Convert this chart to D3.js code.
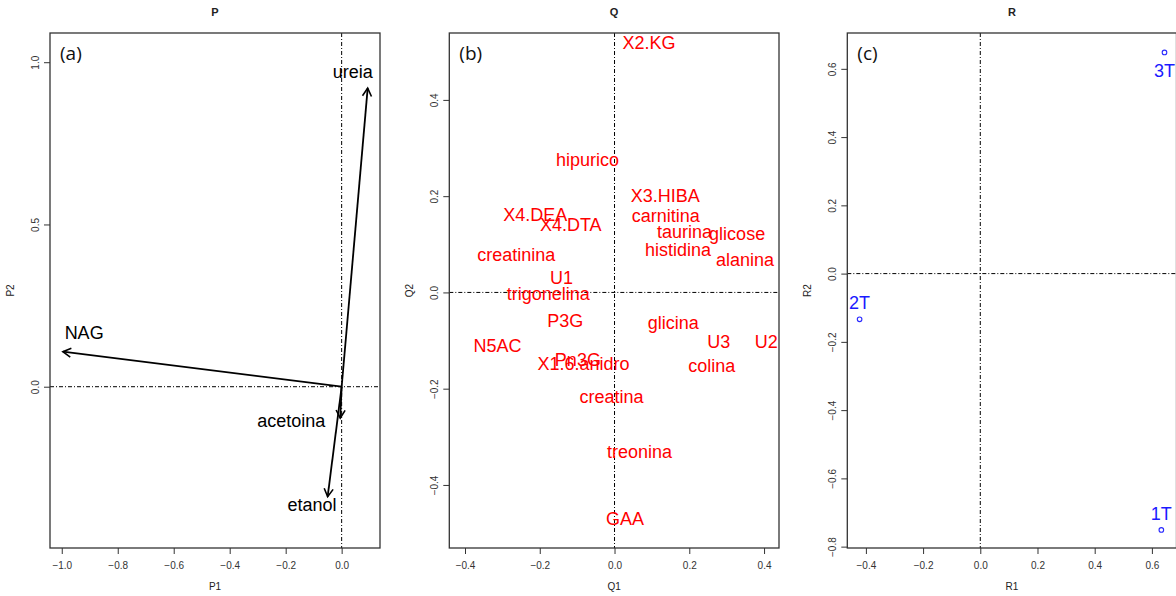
<!DOCTYPE html>
<html><head><meta charset="utf-8">
<script src="https://cdn.jsdelivr.net/npm/d3@7"></script>
<style>
body{margin:0;background:#fff;}
svg{display:block;font-family:"Liberation Sans",Arial,sans-serif;}
</style></head>
<body><svg id="c" width="1176" height="596"></svg>
<script>
// ---- Panel P (variable loadings, arrows) ----
const pVars = ["ureia","NAG","acetoina","etanol"];
const pX = [0.093,-0.996,-0.005,-0.05];
const pY = [0.92,0.108,-0.097,-0.339];
const pLabelX = [0.04,-0.92,-0.18,-0.106];
const pLabelY = [0.97,0.165,-0.106,-0.365];
const pXTicks = [-1.0,-0.8,-0.6,-0.4,-0.2,0.0];
const pYTicks = [0.0,0.5,1.0];

// ---- Panel Q (metabolite labels) ----
const qLabels = ["X2.KG","hipurico","X3.HIBA","carnitina","X4.DEA","X4.DTA","taurina","glicose","histidina","alanina","creatinina","U1","trigonelina","P3G","glicina","N5AC","U3","U2","Pn3G","X1.6.anidro","colina","creatina","treonina","GAA"];
const qX = [0.092,-0.072,0.136,0.137,-0.212,-0.117,0.187,0.328,0.170,0.349,-0.263,-0.142,-0.177,-0.132,0.157,-0.313,0.279,0.406,-0.098,-0.083,0.260,-0.008,0.067,0.028];
const qY = [0.518,0.276,0.200,0.159,0.160,0.140,0.126,0.121,0.088,0.068,0.078,0.030,-0.003,-0.060,-0.064,-0.112,-0.102,-0.102,-0.140,-0.148,-0.152,-0.218,-0.332,-0.470];
const qXTicks = [-0.4,-0.2,0.0,0.2,0.4];
const qYTicks = [-0.4,-0.2,0.0,0.2,0.4];

// ---- Panel R (sample scores) ----
const rLabels = ["3T","2T","1T"];
const rX = [0.644,-0.422,0.633];
const rY = [0.648,-0.134,-0.751];
const rLabelSide = ["below","above","above"];
const rXTicks = [-0.4,-0.2,0.0,0.2,0.4,0.6];
const rYTicks = [-0.8,-0.6,-0.4,-0.2,0.0,0.2,0.4,0.6];

const svg = d3.select("#c");
const fmt = d3.format(".1f");

function panel(o){
  const g = svg.append("g");
  const x = d3.scaleLinear().domain(o.xd).range([o.left,o.right]);
  const y = d3.scaleLinear().domain(o.yd).range([o.bottom,o.top]);
  const clipId = "clip"+o.title;
  g.append("clipPath").attr("id",clipId).append("rect")
    .attr("x",o.left).attr("y",o.top).attr("width",o.right-o.left).attr("height",o.bottom-o.top);
  const inner = g.append("g").attr("clip-path",`url(#${clipId})`);
  // reference lines
  inner.append("line").attr("x1",o.left).attr("x2",o.right).attr("y1",y(0)).attr("y2",y(0))
    .attr("stroke","#000").attr("stroke-width",1).attr("stroke-dasharray","4,2,1,2");
  inner.append("line").attr("x1",x(0)).attr("x2",x(0)).attr("y1",o.top).attr("y2",o.bottom)
    .attr("stroke","#000").attr("stroke-width",1).attr("stroke-dasharray","4,2,1,2");
  // box
  g.append("rect").attr("x",o.left).attr("y",o.top).attr("width",o.right-o.left).attr("height",o.bottom-o.top)
    .attr("fill","none").attr("stroke","#333").attr("stroke-width",1.3);
  // axes
  const ax = g.append("g").attr("transform",`translate(0,${o.bottom})`)
    .call(d3.axisBottom(x).tickValues(o.xt).tickFormat(fmt).tickSize(6).tickPadding(8));
  const ay = g.append("g").attr("transform",`translate(${o.left},0)`)
    .call(d3.axisLeft(y).tickValues(o.yt).tickFormat(fmt).tickSize(6).tickPadding(4));
  [ax,ay].forEach(a=>{
    a.select(".domain").remove();
    a.selectAll("line").attr("stroke","#333");
    a.selectAll("text").attr("fill","#333").attr("font-size",10).attr("font-family","Liberation Sans, Arial, sans-serif");
  });
  ay.selectAll(".tick text").each(function(){
    const t = d3.select(this);
    t.attr("text-anchor","middle").attr("x",null).attr("dy",null)
     .attr("transform","translate(-15,0) rotate(-90)").attr("dominant-baseline","central");
  });
  // title and axis labels
  const cx = (o.left+o.right)/2;
  g.append("text").attr("x",cx).attr("y",16).attr("text-anchor","middle")
    .attr("font-size",11).attr("font-weight","bold").attr("fill","#222").text(o.title);
  g.append("text").attr("x",cx).attr("y",590).attr("text-anchor","middle")
    .attr("font-size",10).attr("fill","#222").text(o.title+"1");
  g.append("text").attr("transform",`translate(${o.left-36},${(o.top+o.bottom)/2}) rotate(-90)`)
    .attr("text-anchor","middle").attr("font-size",10).attr("fill","#222").text(o.title+"2");
  // panel tag
  g.append("text").attr("x",o.left+10).attr("y",60).attr("font-size",19)
    .attr("font-family","Open Sans, Lato, sans-serif").attr("fill","#111").text(o.tag);
  return {g:inner, x, y, root:g};
}

// Panel P
const P = panel({title:"P",tag:"(a)",left:50,right:380,top:33,bottom:548,
  xd:[-1.042,0.137],yd:[-0.497,1.09],xt:pXTicks,yt:pYTicks});
const defs = svg.append("defs");
defs.append("marker").attr("id","ah").attr("viewBox","-10 -6 12 12")
  .attr("refX",0).attr("refY",0).attr("markerWidth",12).attr("markerHeight",12)
  .attr("markerUnits","userSpaceOnUse").attr("orient","auto")
  .append("path").attr("d","M-8,-4.5 L0,0 L-8,4.5").attr("fill","none").attr("stroke","#000").attr("stroke-width",1.6);
pVars.forEach((v,i)=>{
  P.root.append("line").attr("x1",P.x(0)).attr("y1",P.y(0)).attr("x2",P.x(pX[i])).attr("y2",P.y(pY[i]))
    .attr("stroke","#000").attr("stroke-width",1.8).attr("marker-end","url(#ah)");
  P.root.append("text").attr("x",P.x(pLabelX[i])).attr("y",P.y(pLabelY[i]))
    .attr("text-anchor","middle").attr("dominant-baseline","central")
    .attr("font-size",18).attr("fill","#000").text(v);
});

// Panel Q
const Q = panel({title:"Q",tag:"(b)",left:449.3,right:779,top:33,bottom:548,
  xd:[-0.442,0.440],yd:[-0.531,0.539],xt:qXTicks,yt:qYTicks});
qLabels.forEach((v,i)=>{
  Q.root.append("text").attr("x",Q.x(qX[i])).attr("y",Q.y(qY[i]))
    .attr("text-anchor","middle").attr("dominant-baseline","central")
    .attr("font-size",18).attr("fill","#ff0000").text(v);
});

// Panel R
const R = panel({title:"R",tag:"(c)",left:847.3,right:1176.5,top:33,bottom:548,
  xd:[-0.465,0.686],yd:[-0.804,0.705],xt:rXTicks,yt:rYTicks});
rLabels.forEach((v,i)=>{
  R.root.append("circle").attr("cx",R.x(rX[i])).attr("cy",R.y(rY[i])).attr("r",2.3)
    .attr("fill","none").attr("stroke","#2a2aff").attr("stroke-width",1.1);
  const dy = rLabelSide[i]==="below" ? 19 : -16;
  R.root.append("text").attr("x",R.x(rX[i])).attr("y",R.y(rY[i])+dy)
    .attr("text-anchor","middle").attr("dominant-baseline","central")
    .attr("font-size",18).attr("fill","#1a1aff").text(v);
});
</script></body></html>
